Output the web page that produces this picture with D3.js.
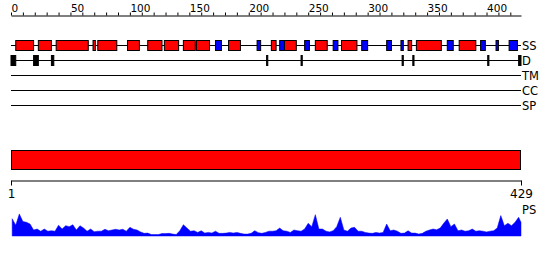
<!DOCTYPE html>
<html>
<head>
<meta charset="utf-8">
<script src="https://cdn.jsdelivr.net/npm/d3@7"></script>
<style>
  body { margin: 0; background: #fff; }
  text { font-family: "DejaVu Sans", sans-serif; fill: #000; }
</style>
</head>
<body>
<script>
// sequence length
const seqLength = 429;

// secondary structure: helices (red) and strands (blue), [start, end] residues
const helices = [
  [5, 19], [24, 34], [39, 65], [70, 71], [74, 89], [99, 108], [116, 127],
  [130, 141], [146, 155], [157, 167], [184, 193], [220, 223], [231, 240],
  [257, 266], [279, 291], [335, 337], [342, 362], [378, 391]
];
const strands = [
  [173, 177], [208, 210], [227, 230], [248, 251], [272, 275], [296, 300],
  [317, 320], [329, 330], [368, 372], [396, 399], [409, 410], [420, 426]
];

// disordered regions
const disorder = [
  [1, 4], [20, 23], [35, 36], [216, 216], [245, 245], [330, 330],
  [339, 339], [402, 402], [428, 429]
];

// track labels
const trackNames = ["SS", "D", "TM", "CC", "SP"];

// domain bar
const domains = [[1, 429]];

// PS profile, sampled every 3 residues starting at residue 1 (last point is 429)
const psResidues = d3.range(1, 429, 3).concat([429]);
const psValues = [
  0.72, 0.45, 0.92, 0.60, 0.57, 0.50, 0.25, 0.29, 0.20, 0.29, 0.20, 0.22, 0.20, 0.45,
  0.29, 0.43, 0.39, 0.47, 0.25, 0.43, 0.33, 0.20, 0.29, 0.18, 0.20, 0.20, 0.28, 0.22,
  0.25, 0.28, 0.25, 0.28, 0.20, 0.36, 0.28, 0.25, 0.17, 0.11, 0.12, 0.06, 0.06, 0.06,
  0.10, 0.10, 0.11, 0.08, 0.06, 0.22, 0.47, 0.33, 0.20, 0.22, 0.15, 0.22, 0.12, 0.15,
  0.12, 0.20, 0.11, 0.11, 0.12, 0.15, 0.12, 0.15, 0.11, 0.08, 0.08, 0.11, 0.22, 0.14,
  0.11, 0.15, 0.20, 0.20, 0.22, 0.33, 0.22, 0.20, 0.15, 0.25, 0.22, 0.20, 0.29, 0.53,
  0.39, 0.89, 0.29, 0.29, 0.20, 0.17, 0.22, 0.39, 0.78, 0.25, 0.20, 0.33, 0.36, 0.20,
  0.20, 0.15, 0.12, 0.11, 0.15, 0.12, 0.15, 0.50, 0.22, 0.25, 0.20, 0.11, 0.12, 0.22,
  0.12, 0.12, 0.08, 0.11, 0.20, 0.25, 0.29, 0.26, 0.33, 0.53, 0.71, 0.39, 0.50, 0.22,
  0.25, 0.20, 0.22, 0.29, 0.20, 0.22, 0.20, 0.17, 0.20, 0.22, 0.33, 0.85, 0.43, 0.53,
  0.43, 0.57, 0.78, 0.57
];

const width = 550, height = 260;

const svg = d3.select('body')
  .append('svg')
  .attr('width', width)
  .attr('height', height);

// residue scale: residue i spans x(i-1)..x(i)
const x = d3.scaleLinear()
  .domain([0, seqLength])
  .range([11, 521]);

const trackY = d3.scalePoint()
  .domain(trackNames)
  .range([45, 105]);

// top axis
const topAxis = d3.axisTop(x)
  .tickValues(d3.range(0, seqLength, 10))
  .tickSize(3)
  .tickSizeOuter(0)
  .tickFormat(d => d % 50 === 0 ? d : '');

const gTop = svg.append('g')
  .attr('transform', 'translate(0, 15.5)')
  .call(topAxis);
gTop.select('.domain').attr('stroke', '#000');
gTop.selectAll('.tick line').attr('stroke', '#000');
gTop.selectAll('.tick text')
  .attr('text-anchor', 'start')
  .attr('y', -4)
  .attr('font-size', 10.5)
  .attr('font-family', '"DejaVu Sans", sans-serif');

// track lines and labels
svg.selectAll('line.track')
  .data(trackNames)
  .enter()
  .append('line')
  .attr('class', 'track')
  .attr('x1', x(0))
  .attr('x2', x(seqLength))
  .attr('y1', d => trackY(d) + 0.5)
  .attr('y2', d => trackY(d) + 0.5)
  .attr('stroke', '#000');

svg.selectAll('text.track')
  .data(trackNames)
  .enter()
  .append('text')
  .attr('class', 'track')
  .attr('x', x(seqLength) + 1)
  .attr('y', d => trackY(d) + 5)
  .attr('font-size', 11.5)
  .text(d => d);

// secondary structure boxes
const ssData = helices.map(d => ({ s: d[0], e: d[1], type: 'H' }))
  .concat(strands.map(d => ({ s: d[0], e: d[1], type: 'E' })));

svg.selectAll('rect.ss')
  .data(ssData)
  .enter()
  .append('rect')
  .attr('class', 'ss')
  .attr('x', d => x(d.s - 1))
  .attr('width', d => x(d.e) - x(d.s - 1))
  .attr('y', trackY('SS') - 4.5)
  .attr('height', 10)
  .attr('fill', d => d.type === 'H' ? '#ff0000' : '#0000ff')
  .attr('stroke', '#000')
  .attr('stroke-width', 1);

// disorder bars
svg.selectAll('rect.dis')
  .data(disorder)
  .enter()
  .append('rect')
  .attr('class', 'dis')
  .attr('x', d => x(d[0] - 1))
  .attr('width', d => x(d[1]) - x(d[0] - 1))
  .attr('y', trackY('D') - 4.5)
  .attr('height', 10)
  .attr('fill', '#000')
  .attr('stroke', '#000');

// domain bar
svg.selectAll('rect.dom')
  .data(domains)
  .enter()
  .append('rect')
  .attr('class', 'dom')
  .attr('x', d => x(d[0] - 1) + 0.5)
  .attr('width', d => x(d[1]) - x(d[0] - 1) - 1)
  .attr('y', 150.5)
  .attr('height', 19)
  .attr('fill', '#ff0000')
  .attr('stroke', '#000');

// ruler
const ruler = d3.scaleLinear()
  .domain([1, seqLength])
  .range([x(0), x(seqLength)]);

const gRuler = svg.append('g')
  .attr('transform', 'translate(0, 180.5)')
  .call(d3.axisBottom(ruler)
    .tickValues([1, seqLength])
    .tickSize(5)
    .tickSizeOuter(0));
gRuler.select('.domain').attr('stroke', '#000');
gRuler.selectAll('.tick line').attr('stroke', '#000');
gRuler.selectAll('.tick text')
  .attr('y', 9)
  .attr('font-size', 12)
  .attr('font-family', '"DejaVu Sans", sans-serif');

// PS profile
const psY = d3.scaleLinear()
  .domain([0, 1])
  .range([236, 212]);

const psData = psResidues.map((r, i) => ({ r: r, v: psValues[i] }));

svg.append('path')
  .datum(psData)
  .attr('fill', '#0000ff')
  .attr('stroke', '#0000ff')
  .attr('stroke-width', 0.5)
  .attr('d', d3.area()
    .x(d => x(d.r))
    .y0(psY(0))
    .y1(d => psY(d.v)));

svg.append('text')
  .attr('x', x(seqLength) + 1)
  .attr('y', 214)
  .attr('font-size', 11.5)
  .text('PS');
</script>
</body>
</html>
